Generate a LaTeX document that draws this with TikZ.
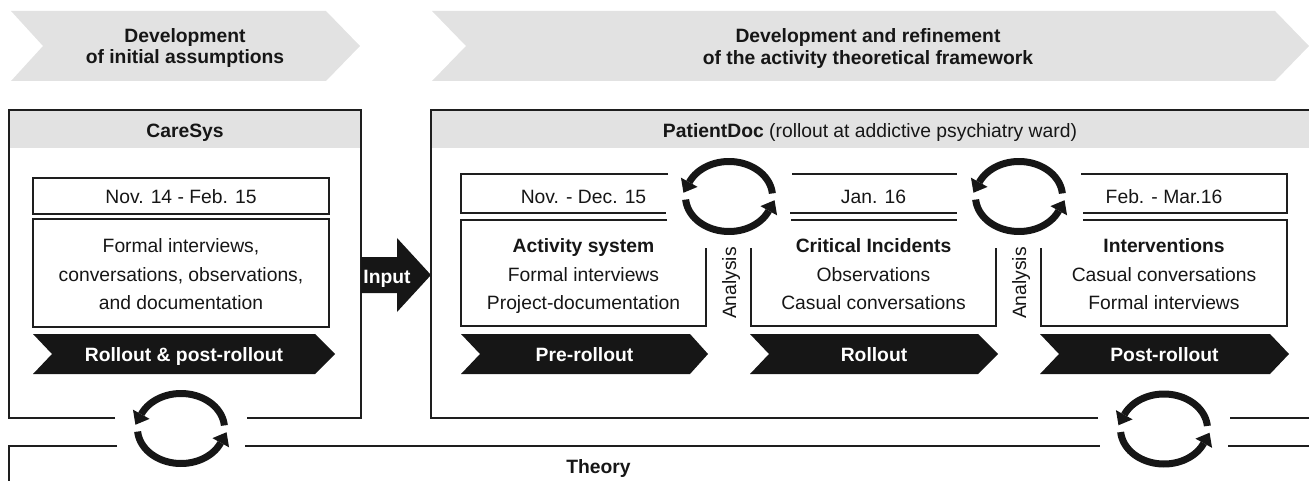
\documentclass[tikz,border=0pt]{standalone}
\usepackage{fontspec}
\setmainfont{Liberation Sans}
\definecolor{hdr}{HTML}{E2E2E2}
\definecolor{ink}{HTML}{161616}
\definecolor{edge}{HTML}{1E1E1E}
\newcommand\cycleicon[2]{%
  \foreach \s/\e in {5/156, 185/336} {
    \draw[cyc] plot[domain=\s:\e,samples=60] ({#1+43.5*cos(\x)},{#2-35*sin(\x)});
    \pgfmathsetmacro\px{#1+43.5*cos(\e)}
    \pgfmathsetmacro\py{#2-35*sin(\e)}
    \pgfmathsetmacro\tx{-43.5*sin(\e)}
    \pgfmathsetmacro\ty{-35*cos(\e)}
    \pgfmathsetmacro\tl{sqrt(\tx*\tx+\ty*\ty)}
    \pgfmathsetmacro\ux{\tx/\tl}
    \pgfmathsetmacro\uy{\ty/\tl}
    \fill[ink] ({\px+9.5*\uy},{\py-9.5*\ux}) -- ({\px+12*\ux},{\py+12*\uy}) -- ({\px-9.5*\uy},{\py+9.5*\ux}) -- cycle;
  }
}
\begin{document}
\begin{tikzpicture}[x=1pt,y=-1pt,
  txt/.style={inner sep=0pt, outer sep=0pt, font=\fontsize{19.3}{21}\selectfont, text=ink, anchor=base},
  btxt/.style={txt, font=\fontsize{19.3}{21}\selectfont\bfseries},
  wtxt/.style={btxt, text=white},
  frame/.style={draw=edge, line width=1.3pt},
  cyc/.style={line width=7pt, draw=ink},
]
\useasboundingbox (0,0) rectangle (1309,481);
\clip (0,0) rectangle (1309,481);

% phase chevrons
\fill[hdr] (11,11) -- (326,11) -- (360,46) -- (326,81) -- (11,81) -- (43,46) -- cycle;
\fill[hdr] (432,11) -- (1275,11) -- (1309,46) -- (1275,81) -- (432,81) -- (466,46) -- cycle;
\node[btxt] (h1a) at (185,43) {Development};
\node[btxt] (h1b) at (185,64) {of initial assumptions};
\node[btxt] (h2a) at (868,43) {Development and refinement};
\node[btxt] (h2b) at (868,64.5) {of the activity theoretical framework};

% CareSys
\fill[hdr] (9,110) rectangle (361,148);
\draw[frame] (115,418) -- (9,418) -- (9,110) -- (361,110) -- (361,418) -- (247,418);
\draw[frame] (33,178) rectangle (329,214);
\draw[frame] (33,219) rectangle (329,327);
\fill[ink] (33,334) -- (315,334) -- (335,354) -- (315,374) -- (33,374) -- (52,354) -- cycle;
\node[btxt] (cs) at (185,137.5) {CareSys};
\node[txt] (d0) at (181,203.5) {Nov. 14 - Feb. 15};
\node[txt] (c0a) at (181,252.5) {Formal interviews,};
\node[txt] (c0b) at (181,281) {conversations, observations,};
\node[txt] (c0c) at (181,309.5) {and documentation};
\node[wtxt] (p0) at (184,361) {Rollout \& post-rollout};

% Input arrow
\fill[ink] (361,257) -- (397,257) -- (397,238) -- (431,275) -- (397,312) -- (397,293) -- (361,293) -- cycle;
\node[wtxt] (inp) at (387,283) {Input};

% PatientDoc
\fill[hdr] (431,110) rectangle (1312,148);
\draw[frame] (1098,418) -- (431,418) -- (431,110) -- (1312,110);
\draw[frame] (1230,418) -- (1312,418);
\node[txt] (pd) at (870,137.5) {\textbf{PatientDoc} (rollout at addictive psychiatry ward)};

% box 1
\draw[frame] (668,174) -- (461,174) -- (461,213) -- (666,213);
\draw[frame] (667,220) -- (461,220) -- (461,326) -- (706,326) -- (706,248);
% box 2
\draw[frame] (792,174) -- (957,174);
\draw[frame] (790,213) -- (957,213);
\draw[frame] (791,220) -- (957,220);
\draw[frame] (751,248) -- (751,326) -- (996,326) -- (996,248);
% box 3
\draw[frame] (1081,174) -- (1287,174) -- (1287,213) -- (1083,213);
\draw[frame] (1083,220) -- (1287,220) -- (1287,326) -- (1041,326) -- (1041,248);

\node[txt] (d1) at (583.5,204) {Nov. - Dec. 15};
\node[btxt] (c1a) at (583.5,252.5) {Activity system};
\node[txt] (c1b) at (583.5,281) {Formal interviews};
\node[txt] (c1c) at (583.5,309.5) {Project-documentation};

\node[txt] (d2) at (873.5,204) {Jan. 16};
\node[btxt] (c2a) at (873.5,252.5) {Critical Incidents};
\node[txt] (c2b) at (873.5,281) {Observations};
\node[txt] (c2c) at (873.5,309.5) {Casual conversations};

\node[txt] (d3) at (1164,204) {Feb. - Mar.16};
\node[btxt] (c3a) at (1164,252.5) {Interventions};
\node[txt] (c3b) at (1164,281) {Casual conversations};
\node[txt] (c3c) at (1164,309.5) {Formal interviews};

\node[txt, rotate=90] (an1) at (736,283) {Analysis};
\node[txt, rotate=90] (an2) at (1026,283) {Analysis};

% phase arrows
\fill[ink] (461,334) -- (690,334) -- (708,354) -- (690,374) -- (461,374) -- (480,354) -- cycle;
\fill[ink] (750,334) -- (978,334) -- (998,354) -- (978,374) -- (750,374) -- (769,354) -- cycle;
\fill[ink] (1040,334) -- (1270,334) -- (1289,354) -- (1270,374) -- (1040,374) -- (1059,354) -- cycle;
\node[wtxt] (p1) at (584.5,361) {Pre-rollout};
\node[wtxt] (p2) at (874,361) {Rollout};
\node[wtxt] (p3) at (1164.5,361) {Post-rollout};

% Theory
\draw[frame] (117,446) -- (9,446) -- (9,485);
\draw[frame] (245,446) -- (1100,446);
\draw[frame] (1228,446) -- (1312,446);
\node[btxt] (th) at (598.5,473) {Theory};

% cycles
\cycleicon{729}{196.5}
\cycleicon{1019}{196.5}
\cycleicon{181}{428.5}
\cycleicon{1164}{429}
\end{tikzpicture}
\end{document}
